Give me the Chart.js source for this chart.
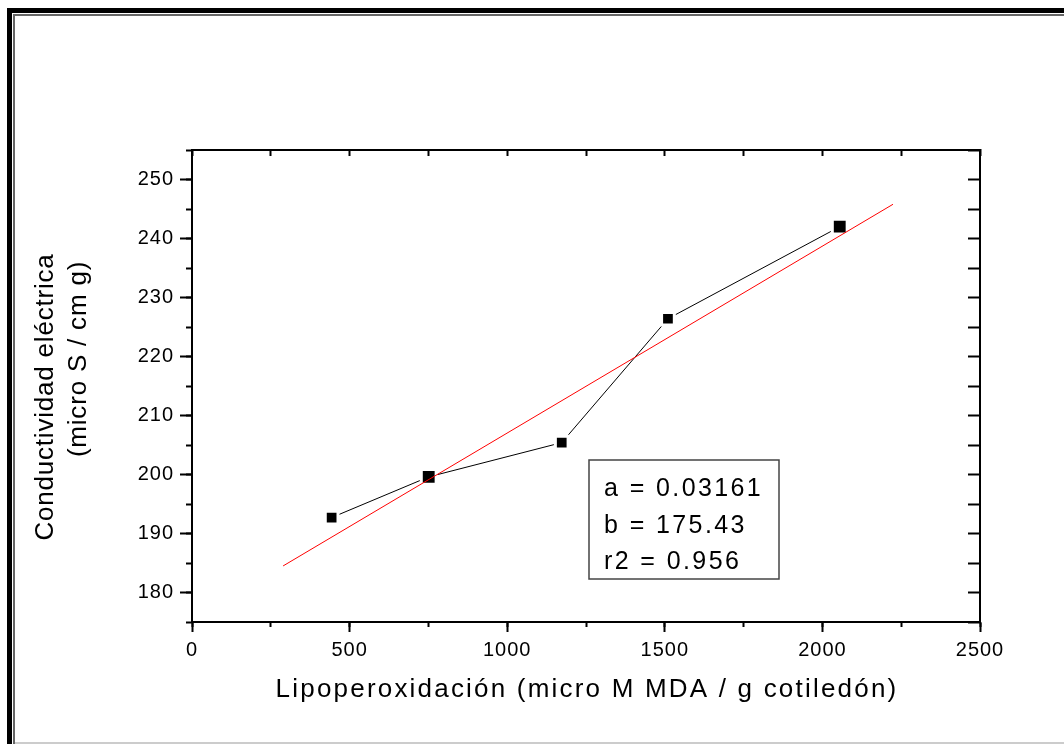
<!DOCTYPE html>
<html>
<head>
<meta charset="utf-8">
<script src="https://cdn.jsdelivr.net/npm/chart.js@4.4.1/dist/chart.umd.min.js"></script>
<style>
  html, body { margin: 0; padding: 0; background: #fff; }
  #wrap { position: relative; width: 1064px; height: 744px; overflow: hidden; }
  #wrap canvas { position: absolute; left: 0; top: 0; }
  .fr { position: absolute; }
</style>
</head>
<body>
<div id="wrap">
  <canvas id="chart" width="1064" height="744" style="width:1064px;height:744px"></canvas>
  <div class="fr" style="left:7px;top:8px;width:1100px;height:5px;background:#000"></div>
  <div class="fr" style="left:7px;top:8px;width:5px;height:760px;background:#000"></div>
  <div class="fr" style="left:13px;top:14px;width:1100px;height:2px;background:#666"></div>
  <div class="fr" style="left:13px;top:14px;width:2px;height:760px;background:#666"></div>
  <div class="fr" style="left:15px;top:742px;width:1100px;height:2px;background:#ccc"></div>
</div>
<script>
const lipoperox = [443, 751, 1173, 1510, 2055];
const conductividad = [192.7, 199.6, 205.4, 226.4, 242.0];
const fitLipo = [289, 2224];
const fitCond = [184.5, 245.8];
const xMinMax = [0, 2500];
const yMinMax = [175, 255];
const xStep = 250, xLabelStep = 500;
const yStep = 5, yLabelStep = 10;
const xTitle = 'Lipoperoxidación (micro M MDA / g cotiledón)';
const yTitle = ['Conductividad eléctrica', '(micro S / cm g)'];
const fitLabels = ['a = 0.03161', 'b = 175.43', 'r2 = 0.956'];

const FONT = '"Liberation Sans", Arial, sans-serif';

// ticks only, no grid lines inside the plot
const tickGrid = (len, color) => ({
  display: true, drawOnChartArea: false, drawTicks: true,
  tickLength: len, tickWidth: 2, tickColor: color || '#000',
});
const majorOnly = (step) => (c) =>
  (c.tick && c.tick.value % step === 0 ? '#000' : 'rgba(0,0,0,0)');
const border = { display: true, color: '#000', width: 2 };
const noBorder = { display: false };

const overlay = {
  id: 'overlay',
  beforeDraw(chart) { chart.ctx.letterSpacing = '1px'; },
  afterDraw(chart) {
    const ctx = chart.ctx;
    const area = chart.chartArea;
    ctx.save();
    ctx.fillStyle = '#000';
    ctx.textBaseline = 'alphabetic';
    ctx.textAlign = 'center';

    ctx.font = `26px ${FONT}`;
    ctx.letterSpacing = '2.2px';
    ctx.fillText(xTitle, (area.left + area.right) / 2 + 1, 697);

    ctx.font = `26px ${FONT}`;
    ctx.letterSpacing = '0.8px';
    [[53, 397], [85.5, 359]].forEach(([x, y], i) => {
      ctx.save();
      ctx.translate(x, y);
      ctx.rotate(-Math.PI / 2);
      ctx.fillText(yTitle[i], 0, 0);
      ctx.restore();
    });

    // regression box
    ctx.strokeStyle = '#444';
    ctx.lineWidth = 1.5;
    ctx.strokeRect(589, 460, 190, 119);
    ctx.font = `25px ${FONT}`;
    ctx.letterSpacing = '2.4px';
    ctx.textAlign = 'left';
    fitLabels.forEach((t, i) => ctx.fillText(t, 604, 496 + i * 36.5));
    ctx.restore();
  },
};

new Chart(document.getElementById('chart'), {
  type: 'line',
  data: {
    datasets: [
      {
        label: 'ajuste',
        data: fitLipo.map((x, i) => ({ x, y: fitCond[i] })),
        borderColor: '#ff0000', borderWidth: 1, pointRadius: 0,
        fill: false, tension: 0, order: 0,
        xAxisID: 'x', yAxisID: 'y',
      },
      {
        label: 'datos',
        data: lipoperox.map((x, i) => ({ x, y: conductividad[i] })),
        borderColor: '#000', borderWidth: 1, tension: 0, fill: false,
        pointStyle: 'rect', pointRadius: [9, 10.5, 9, 9, 10.5],
        pointBackgroundColor: '#000', pointBorderColor: '#fff', pointBorderWidth: 3,
        order: 1,
        xAxisID: 'x', yAxisID: 'y',
      },
    ],
  },
  options: {
    responsive: false, animation: false, devicePixelRatio: 1,
    layout: { padding: 0 },
    plugins: { legend: { display: false }, tooltip: { enabled: false } },
    events: [],
    scales: {
      x: {
        type: 'linear', position: 'bottom', weight: 1,
        min: xMinMax[0], max: xMinMax[1],
        border, grid: tickGrid(10, majorOnly(xLabelStep)),
        ticks: {
          stepSize: xStep, autoSkip: false, maxRotation: 0, padding: 6,
          color: '#000', font: { family: FONT, size: 20 },
          callback: (v) => (v % xLabelStep === 0 ? String(v) : ''),
        },
        afterFit: (s) => { s.height = 122; },
      },
      xMin: {
        type: 'linear', position: 'bottom', weight: 0,
        min: xMinMax[0], max: xMinMax[1],
        border: noBorder, grid: tickGrid(5),
        ticks: { stepSize: xStep, autoSkip: false, display: false },
        afterFit: (s) => { s.height = 0; },
      },
      x2: {
        type: 'linear', position: 'top',
        min: xMinMax[0], max: xMinMax[1],
        border, grid: tickGrid(-6),
        ticks: { stepSize: xStep, autoSkip: false, display: false },
        afterFit: (s) => { s.height = 150; },
      },
      y: {
        type: 'linear', position: 'left', weight: 1,
        min: yMinMax[0], max: yMinMax[1],
        border, grid: tickGrid(12, majorOnly(yLabelStep)),
        ticks: {
          stepSize: yStep, autoSkip: false, padding: 6,
          color: '#000', font: { family: FONT, size: 20 },
          callback: (v) => (v % yLabelStep === 0 ? String(v) : ''),
        },
        afterFit: (s) => { s.width = 192; },
      },
      yMin: {
        type: 'linear', position: 'left', weight: 0,
        min: yMinMax[0], max: yMinMax[1],
        border: noBorder, grid: tickGrid(6),
        ticks: { stepSize: yStep, autoSkip: false, display: false },
        afterFit: (s) => { s.width = 0; },
      },
      y2: {
        type: 'linear', position: 'right',
        min: yMinMax[0], max: yMinMax[1],
        border, grid: tickGrid(-12),
        ticks: { stepSize: yStep, autoSkip: false, display: false },
        afterFit: (s) => { s.width = 84; },
      },
    },
  },
  plugins: [overlay],
});
</script>
</body>
</html>
